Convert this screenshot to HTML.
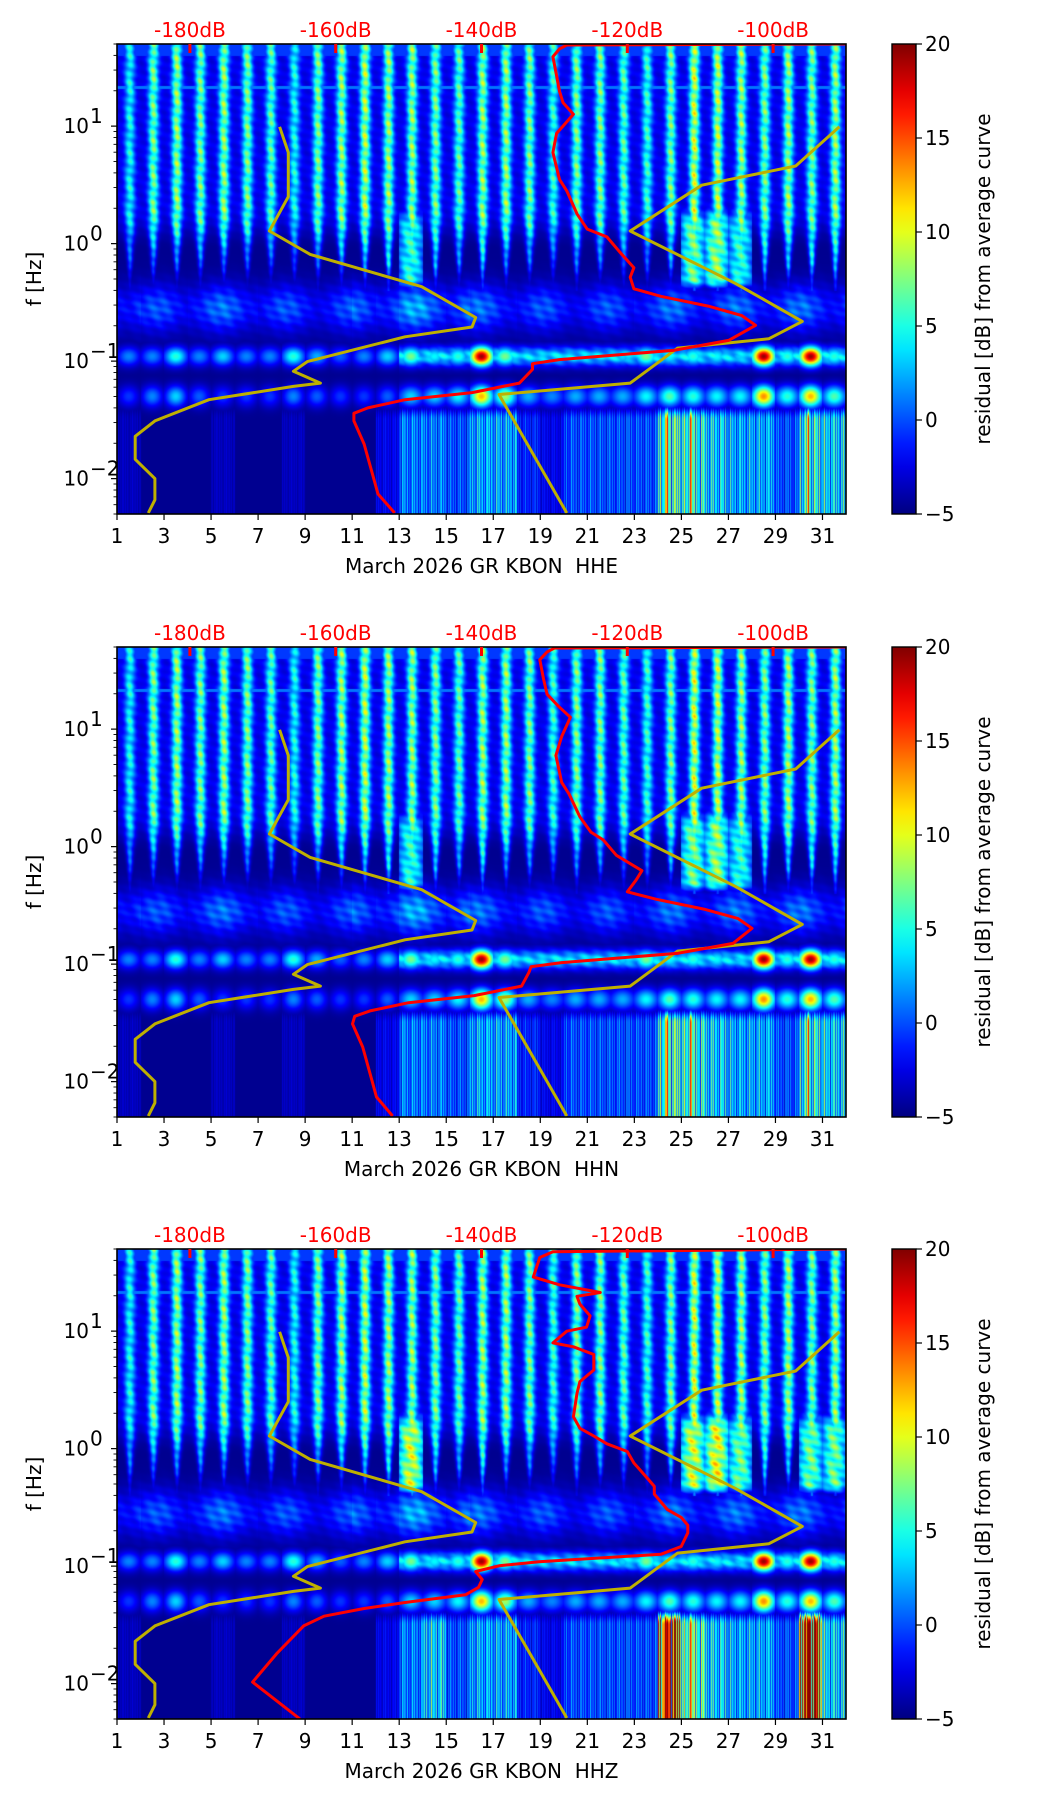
<!DOCTYPE html>
<html><head><meta charset="utf-8">
<style>
body{margin:0;width:1052px;height:1806px;background:#fff;position:relative;overflow:hidden;font-family:"DejaVu Sans","Liberation Sans",sans-serif}
canvas{position:absolute}
svg{position:absolute;left:0;top:0}
text{font-family:"DejaVu Sans","Liberation Sans",sans-serif;font-size:20px;white-space:pre}
</style></head>
<body>
<script>
// ---- data ----
const xTicks=[1,3,5,7,9,11,13,15,17,19,21,23,25,27,29,31];
const dbTicks=[-180,-160,-140,-120,-100];
const yExps=[-2,-1,0,1];
const cbTicks=[-5,0,5,10,15,20];
const components=['HHE','HHN','HHZ'];
// per-day heatmap levels (days 1..31)
const hfDay=[6,9,10,9,10,9,8,6,9,10,11,10,10,9,8,10,10,9,7,9,9,8,7,9,12,11,10,9,10,9,10];
const midDay=[3,3,3,3,3,2,2,2,3,4,6,8,10,7,4,8,4,3,2,4,3,3,3,5,12,13,10,8,6,8,8];
const midDayZ=[4,3,3,3,3,2,2,2,3,4,6,8,15,7,4,9,4,3,2,4,3,3,3,5,15,16,12,9,6,12,12];
const msDay=[3,2,2,3,3,3,2,2,2,2,3,4,5,5,4,3,3,2,2,2,2,2,3,3,3,3,3,3,3,3,3];
const lf01Day=[2,2,6,2,4,2,2,6,3,1,2,4,8,5,6,20,8,3,2,2,3,4,8,5,6,5,4,20,6,20,6];
const lf05Day=[1,3,5,2,1,1,1,3,2,1,1,2,3,3,4,12,8,2,1,2,2,2,4,6,5,4,4,13,5,12,6];
const lpDay=[1,0,0,0,1,0,0,1,0,0,0,2,5,5,4,6,6,3,2,4,4,4,4,9,8,7,6,6,4,8,7];
const lpDayZ=[1,0,0,0,1,0,0,1,0,0,0,2,5,7,4,6,6,3,2,4,4,4,4,18,9,7,6,6,4,20,7];
// PSD curves (frequency Hz, dB)
const redF1=[0.0051,0.0074,0.0197,0.031,0.036,0.040,0.047,0.054,0.065,0.085,0.095,0.103,0.124,0.150,0.202,0.244,0.294,0.356,0.413,0.518,0.624,0.843,1.14,1.33,1.79,2.81,3.52,5.96,8.67,12.6,15.8,19.8,26.8,39.0,45.4,49.0,50];
const redD1=[-151.9,-154.2,-156.1,-157.5,-157.5,-155.6,-150.5,-141.3,-134.8,-133.0,-133.0,-129.3,-113.5,-106.1,-102.4,-104.3,-108.9,-115.4,-119.1,-119.6,-119.1,-121.0,-122.8,-125.5,-126.9,-128.3,-129.3,-130.2,-129.7,-127.4,-128.8,-129.3,-129.7,-130.2,-129.3,-128.3,-90];
const redD2=[-152.2,-154.4,-156.3,-157.7,-157.4,-155.3,-150.0,-141.0,-134.5,-133.5,-133.2,-129.0,-113.0,-105.5,-102.9,-104.8,-109.5,-116.0,-120.0,-118.8,-118.0,-121.5,-123.3,-125.0,-126.5,-128.0,-129.0,-129.8,-129.0,-127.8,-129.5,-131.0,-131.5,-132.0,-131.0,-130.0,-90];
const redF3=[0.005,0.0103,0.018,0.031,0.0375,0.0436,0.049,0.057,0.066,0.077,0.090,0.1007,0.109,0.126,0.147,0.192,0.223,0.26,0.303,0.41,0.477,0.556,0.754,0.946,1.10,1.28,1.49,1.87,2.96,3.72,4.67,6.32,7.36,7.94,9.98,10.8,13.5,17.0,19.8,21.3,24.8,28.9,42.3,47.4,50];
const redD3=[-164.9,-171.4,-168.1,-164.4,-161.6,-156.1,-150.5,-142.2,-140.4,-139.9,-140.8,-137.6,-132.1,-115.4,-112.6,-111.7,-111.7,-112.6,-114.5,-116.3,-116.3,-117.2,-119.1,-120.0,-122.8,-124.6,-126.5,-127.4,-126.9,-126.5,-124.6,-124.6,-127.4,-130.2,-128.3,-125.6,-125.1,-126.5,-126.9,-123.7,-129.3,-132.9,-132.0,-130.2,-90];
const nlnmF=[9.87,5.96,2.51,1.28,0.81,0.43,0.235,0.195,0.161,0.099,0.082,0.065,0.061,0.047,0.031,0.0229,0.0146,0.010,0.0066,0.0051];
const nlnmD=[-167.7,-166.5,-166.5,-169.1,-163.5,-148.2,-140.8,-141.3,-150.5,-163.9,-165.8,-162.1,-165.8,-177.4,-184.8,-187.5,-187.5,-184.8,-184.8,-185.7];
const nhnmF=[9.87,4.58,3.14,1.28,0.46,0.218,0.155,0.129,0.065,0.052,0.0051];
const nhnmD=[-90.9,-96.9,-109.8,-119.6,-105.2,-96.0,-100.6,-113.1,-119.6,-137.6,-128.3];

// ---- layout ----
const L=117,W=729,H=470,TOPS=[44,647,1249];
const CBX=892,CBW=24;
const FMAX=50,FMIN=0.005,DAY0=1,DAY1=32,DB0=-190,DB1=-90;
const xDay=d=>L+(d-DAY0)/(DAY1-DAY0)*W;
const yF=(f,T)=>T+(Math.log10(FMAX)-Math.log10(f))/(Math.log10(FMAX)-Math.log10(FMIN))*H;
const xDb=v=>L+(v-DB0)/(DB1-DB0)*W;
const yCb=(v,T)=>T+H-(v+5)/25*H;

function jet(t){t=Math.max(0,Math.min(1,t));
 const c=x=>Math.max(0,Math.min(1,x));
 return [255*c(1.5-Math.abs(4*t-3)),255*c(1.5-Math.abs(4*t-2)),255*c(1.5-Math.abs(4*t-1))];}
const sm=(a,b,x)=>{const t=Math.max(0,Math.min(1,(x-a)/(b-a)));return t*t*(3-2*t);};
function val(day,lf,p){
 const d=Math.max(0,Math.min(30,Math.floor(day)-1));const t=day-Math.floor(day);
 const mid=(p==2?midDayZ:midDay)[d], lp=(p==2?lpDayZ:lpDay)[d];
 const tex=0.8+0.2*Math.sin(lf*53+day*7.1)*Math.cos(lf*31-day*3.3);
 let v=-4.6;
 if(lf>-0.4){
  const fade=sm(-0.33,0.25,lf);
  const amp=(mid+fade*(hfDay[d]-mid))+2.5;
  const w=0.09+0.12*fade;
  const s=Math.exp(-Math.pow((t-0.55)/w,2));
  const bg=-4.6+2.6*sm(-0.05,0.3,lf)*tex;
  v=bg+amp*s*tex*(0.4+0.6*sm(-0.33,-0.15,lf));
  if(mid>=10){
   const band=sm(-0.42,-0.3,lf)*(1-sm(0.15,0.4,lf));
   const broad=Math.exp(-Math.pow((t-0.5)/0.6,2));
   v=Math.max(v,-4.6+(mid+2)*band*broad*tex);
  }
  if(Math.abs(lf-1.33)<0.012)v=Math.max(v,1);
  if(lf>1.6)v=Math.max(v,-0.5);
 }
 const prof=Math.exp(-Math.pow((lf+0.55)/0.2,2));
 v=Math.max(v,-4.6+(msDay[d]+4)*prof*(0.75+0.25*Math.cos(day*2.3))*tex);
 const base=day>=13?2.5:0.5;
 const b1=Math.exp(-Math.pow((lf+0.96)/0.08,2));
 v=Math.max(v,-4.6+base*b1*4*tex, -4.6+(lf01Day[d]+4)*b1*Math.exp(-Math.pow((t-0.5)/0.5,2)));
 const b2=Math.exp(-Math.pow((lf+1.3)/0.09,2));
 v=Math.max(v,-4.6+(lf05Day[d]+3)*b2*Math.exp(-Math.pow((t-0.5)/0.45,2))+ (day>=13?2:0)*b2);
 if(lf<-1.35){
  const k=sm(-1.35,-1.5,lf);
  const s=0.55+0.2*Math.sin(day*23.7)*Math.cos(day*7.9)+0.25*Math.sin(day*61.3);
  let lv=-4.6+lp*s*2.0;
  if(lp>=8)lv=Math.max(lv,-4.6+(lp>=15?24:22)*Math.exp(-Math.pow((t-0.4)/(lp>=15?0.12:0.06),2)));
  v=Math.max(v,-4.6+(lv+4.6)*k);
 }
 return v;
}
const NS='http://www.w3.org/2000/svg';
function el(tag,attrs,parent){const e=document.createElementNS(NS,tag);for(const k in attrs)e.setAttribute(k,attrs[k]);parent.appendChild(e);return e;}

const svg=document.createElementNS(NS,'svg');
svg.setAttribute('width','1052');svg.setAttribute('height','1806');



TOPS.forEach((T,p)=>{
 const cv=document.createElement('canvas');cv.width=W;cv.height=H;
 cv.style.left=L+'px';cv.style.top=T+'px';
 
 
 document.body.appendChild(cv);
 const ctx=cv.getContext('2d');const im=ctx.createImageData(W,H);
 for(let y=0;y<H;y++){const lf=Math.log10(FMAX)-(y+0.5)/H*(Math.log10(FMAX)-Math.log10(FMIN));
  for(let x=0;x<W;x++){const day=DAY0+(x+0.5)/W*(DAY1-DAY0);
   const c=jet((val(day,lf,p)+5)/25);const i=(y*W+x)*4;
   im.data[i]=c[0];im.data[i+1]=c[1];im.data[i+2]=c[2];im.data[i+3]=255;}}
 ctx.putImageData(im,0,0);

 const g=el('g',{},svg);
 
 
 const clip=el('clipPath',{id:'c'+p},g);el('rect',{x:L,y:T,width:W,height:H},clip);
 const cg=el('g',{'clip-path':'url(#c'+p+')'},g);
 const line2=(F,D,color,name)=>{const pts=F.map((f,i)=>xDb(D[i]).toFixed(1)+','+yF(f,T).toFixed(1)).join(' ');
  const pl=el('polyline',{points:pts,fill:'none',stroke:color,'stroke-width':3,'stroke-linejoin':'round'},cg);
  
  };
 line2(nlnmF,nlnmD,'#bfb000','nlnm-curve');
 line2(nhnmF,nhnmD,'#bfb000','nhnm-curve');
 const rf=p==2?redF3:redF1, rd=p==0?redD1:(p==1?redD2:redD3);
 line2(rf,rd,'#ff0000','psd-curve');
 const fr=el('rect',{x:L,y:T,width:W,height:H,fill:'none',stroke:'#000','stroke-width':1.6},g);
 
 
 xTicks.forEach(d=>{const x=xDay(d);
  el('line',{x1:x,x2:x,y1:T+H,y2:T+H+6,stroke:'#000','stroke-width':1.2},g);
  const t=el('text',{x:x,y:T+H+29,'text-anchor':'middle'},g);t.textContent=d;
  
  });
 const xt=el('text',{x:L+W/2,y:T+H+59,'text-anchor':'middle'},g);
 xt.textContent='March 2026 GR KBON\u00a0 '+components[p];
 
 
 dbTicks.forEach(v=>{const x=xDb(v);
  el('line',{x1:x,x2:x,y1:T,y2:T+9,stroke:'#ff0000','stroke-width':3},g);
  const t=el('text',{x:x,y:T-7,'text-anchor':'middle',fill:'#ff0000'},g);t.textContent=v+'dB';
  
  });
 for(let e=-3;e<=1;e++){for(let m=1;m<10;m++){const f=m*Math.pow(10,e);if(f<FMIN||f>FMAX)continue;
  const y=yF(f,T);el('line',{x1:L-(m==1?6:3.5),x2:L,y1:y,y2:y,stroke:'#000','stroke-width':m==1?1.2:0.9},g);}}
 yExps.forEach(e=>{const y=yF(Math.pow(10,e),T);
  const t=el('text',{x:L-28,y:y+7,'text-anchor':'end'},g);t.textContent='10';
  
  
  const s=el('text',{x:L-27,y:y-3,'font-size':'14px'},g);s.textContent=e<0?'\u2212'+(-e):String(e);});
 const yl=el('text',{x:0,y:0,'text-anchor':'middle',transform:'translate(41,'+(T+H/2)+') rotate(-90)'},g);
 yl.textContent='f [Hz]';
 
 
 const gid='cbg'+p;const lg=el('linearGradient',{id:gid,x1:0,y1:1,x2:0,y2:0},g);
 for(let i=0;i<=20;i++){const c=jet(i/20);el('stop',{offset:i/20,'stop-color':'rgb('+c.map(Math.round).join(',')+')'},lg);}
 const cb=el('rect',{x:CBX,y:T,width:CBW,height:H,fill:'url(#'+gid+')',stroke:'#000','stroke-width':1.4},g);
 
 
 cbTicks.forEach(v=>{const y=yCb(v,T);
  el('line',{x1:CBX+CBW,x2:CBX+CBW+6,y1:y,y2:y,stroke:'#000','stroke-width':1.2},g);
  const t=el('text',{x:CBX+CBW+9,y:y+7},g);t.textContent=v<0?'\u2212'+(-v):v;
  
  });
 const cl=el('text',{x:0,y:0,'text-anchor':'middle',transform:'translate(990,'+(T+H/2)+') rotate(-90)'},g);
 cl.textContent='residual [dB] from average curve';
 
 
});
document.body.appendChild(svg);
</script>
</body></html>
